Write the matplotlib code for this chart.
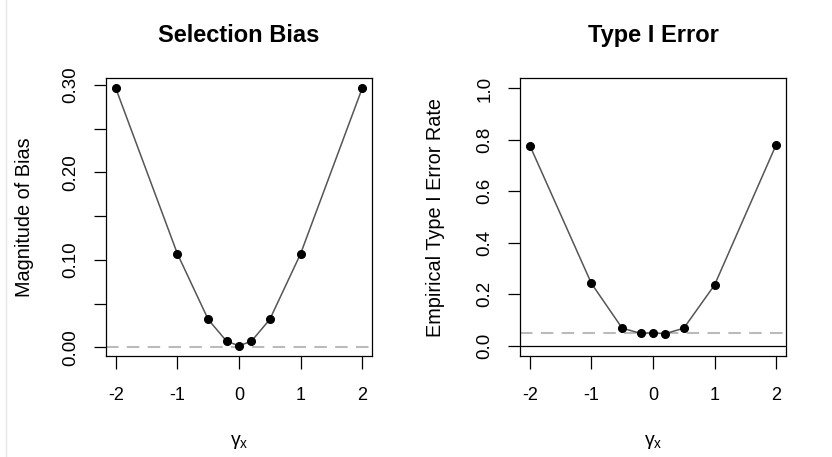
import numpy as np
import matplotlib
matplotlib.use("Agg")
import matplotlib.pyplot as plt
from matplotlib.lines import Line2D

plt.rcParams['font.family'] = ['Liberation Sans', 'DejaVu Sans']
plt.rcParams['mathtext.fontset'] = 'custom'
plt.rcParams['mathtext.rm'] = 'Liberation Sans'
plt.rcParams['mathtext.it'] = 'Liberation Sans'

# simulation settings (gamma_x) and results
gamma_x = [-2, -1, -0.5, -0.2, 0, 0.2, 0.5, 1, 2]
bias = [0.296, 0.107, 0.032, 0.007, 0.002, 0.007, 0.032, 0.107, 0.296]
type1 = [0.778, 0.242, 0.068, 0.048, 0.050, 0.047, 0.068, 0.236, 0.781]
alpha = 0.05

bias_ticks = [0.00, 0.05, 0.10, 0.15, 0.20, 0.25, 0.30]
bias_labels = ["0.00", "", "0.10", "", "0.20", "", "0.30"]
err_ticks = [0.0, 0.2, 0.4, 0.6, 0.8, 1.0]
err_labels = ["0.0", "0.2", "0.4", "0.6", "0.8", "1.0"]
x_ticks = [-2, -1, 0, 1, 2]


def r_limits(lo, hi):
    pad = (hi - lo) * 0.04
    return lo - pad, hi + pad


def r_panel(ax, y, title, ylabel, yticks, ylabels, ylim, ylab_x):
    ax.plot(gamma_x, y, '-', color='#555555', lw=1.1, zorder=3)
    ax.plot(gamma_x, y, 'o', color='black', ms=5.5, zorder=4)
    ax.set_xlim(*r_limits(min(gamma_x), max(gamma_x)))
    ax.set_ylim(*ylim)
    ax.set_xticks(x_ticks)
    ax.set_xticklabels([str(t) for t in x_ticks])
    ax.set_yticks(yticks)
    ax.set_yticklabels(ylabels, rotation=90, va='center')
    ax.tick_params(axis='x', length=9, width=0.9, pad=13, labelsize=13)
    ax.tick_params(axis='y', length=9, width=0.9, pad=10, labelsize=13.5)
    for s in ax.spines.values():
        s.set_linewidth(0.9)
    ax.set_title(title, fontsize=17, fontweight='bold', pad=26)
    ax.set_ylabel(ylabel, fontsize=14.3, va='center')
    ax.yaxis.set_label_coords(ylab_x, 0.5)
    ax.set_xlabel(r'$\mathrm{\gamma_x}$', fontsize=14, va='center')
    ax.xaxis.set_label_coords(0.5, -0.31)


fig = plt.figure(figsize=(8.32, 4.57), dpi=100)
ax1 = fig.add_axes([0.1274, 0.221, 0.3197, 0.608])
ax2 = fig.add_axes([0.625, 0.221, 0.3197, 0.608])

r_panel(ax1, bias, "Selection Bias", "Magnitude of Bias",
        bias_ticks, bias_labels, r_limits(min(bias), max(bias)), -0.308)
ax1.axhline(0, color='#bbbbbb', lw=1.5, dashes=(6, 4), zorder=2)

r_panel(ax2, type1, "Type I Error", "Empirical Type I Error Rate",
        err_ticks, err_labels, r_limits(0, 1), -0.316)
ax2.axhline(alpha, color='#bbbbbb', lw=1.5, dashes=(6, 4), zorder=2)
ax2.axhline(0, color='black', lw=0.9, zorder=2)

# faint frame edge on the left
fig.add_artist(Line2D([0.007, 0.007], [0, 1], color='#e6e6e6', lw=1,
                      transform=fig.transFigure))

fig.savefig("out.png", dpi=100)
